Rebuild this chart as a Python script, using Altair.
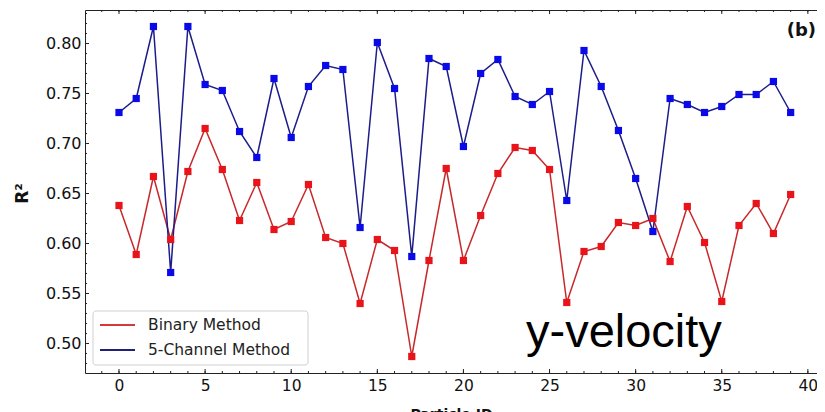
import altair as alt
import pandas as pd

# ---------------- data ----------------
particle_ids = list(range(40))
binary_r2 = [0.638, 0.589, 0.667, 0.604, 0.672, 0.715, 0.674, 0.623, 0.661, 0.614,
             0.622, 0.659, 0.606, 0.600, 0.540, 0.604, 0.593, 0.487, 0.583, 0.675,
             0.583, 0.628, 0.670, 0.696, 0.693, 0.674, 0.541, 0.592, 0.597, 0.621,
             0.618, 0.625, 0.582, 0.637, 0.601, 0.542, 0.618, 0.640, 0.610, 0.649]
five_channel_r2 = [0.731, 0.745, 0.817, 0.571, 0.817, 0.759, 0.753, 0.712, 0.686, 0.765,
                   0.706, 0.757, 0.778, 0.774, 0.616, 0.801, 0.755, 0.587, 0.785, 0.777,
                   0.697, 0.770, 0.784, 0.747, 0.739, 0.752, 0.643, 0.793, 0.757, 0.713,
                   0.665, 0.612, 0.745, 0.739, 0.731, 0.737, 0.749, 0.749, 0.762, 0.731]
series_names = ["Binary Method", "5-Channel Method"]
x_major = [0, 5, 10, 15, 20, 25, 30, 35, 40]
x_minor = list(range(-1, 41))
y_major = [0.50, 0.55, 0.60, 0.65, 0.70, 0.75, 0.80]
y_minor = [round(0.48 + 0.01 * i, 2) for i in range(36)]
x_title = "Particle ID"
y_title = "R²"
panel_label = "(b)"
component_label = "y-velocity"

line_colors = ["#c8282a", "#1c1c8a"]
legend_line_colors = ["#d43a3a", "#202078"]
marker_colors = ["#e8141a", "#0a0ae8"]

W, H = 732, 363
FONT = "DejaVu Sans"

df = pd.DataFrame({
    "pid": particle_ids * 2,
    "r2": binary_r2 + five_channel_r2,
    "series": [series_names[0]] * 40 + [series_names[1]] * 40,
})

xscale = alt.Scale(domain=[-1.974, 40.53], nice=False, zero=False)
yscale = alt.Scale(domain=[0.4705, 0.8335], nice=False, zero=False)

y_axis = alt.Axis(values=y_major, format=".2f", ticks=False, grid=False,
                  domainColor="#222", labelFont=FONT, labelFontSize=16,
                  labelColor="#111", labelPadding=4, title=y_title,
                  titleFont=FONT, titleFontSize=17, titleFontWeight="bold",
                  titleColor="#111", titleAngle=270, titleX=-63, titleY=183,
                  titleAlign="center", titleBaseline="middle")

x_bottom = alt.X("pid:Q", scale=xscale,
                 axis=alt.Axis(values=x_major, ticks=False, grid=False, domainColor="#222",
                               labelFont=FONT, labelFontSize=15.5, labelColor="#111",
                               labelPadding=5, title=x_title, titleFont=FONT,
                               titleFontSize=14, titleFontWeight="bold", titlePadding=14,
                               titleColor="#111"))


def ycol(field):
    return alt.Y(field, scale=yscale, axis=y_axis)


lines = alt.Chart(df).mark_line(strokeWidth=1.5).encode(
    x=x_bottom, y=ycol("r2:Q"),
    color=alt.Color("series:N", scale=alt.Scale(domain=series_names, range=line_colors),
                    legend=None),
    detail="series:N",
)
points = alt.Chart(df).mark_square(size=52, opacity=1).encode(
    x=alt.X("pid:Q", scale=xscale, axis=None),
    y=ycol("r2:Q"),
    fill=alt.Fill("series:N", scale=alt.Scale(domain=series_names, range=marker_colors),
                  legend=None),
)

# top spine
top_axis = alt.Chart(pd.DataFrame({"pid": [0]})).mark_point(opacity=0).encode(
    x=alt.X("pid:Q", scale=xscale,
            axis=alt.Axis(orient="top", labels=False, ticks=False, grid=False,
                          domainColor="#222", title=None)),
)

# inward ticks
xmaj = pd.DataFrame({"t": x_major})
xmin = pd.DataFrame({"t": x_minor})
ymaj = pd.DataFrame({"r2": y_major})
ymin = pd.DataFrame({"r2": y_minor})
tick_color = "#222"


def xticks(d, length):
    b = alt.Chart(d).mark_rule(color=tick_color, strokeWidth=1).encode(
        x=alt.X("t:Q", scale=xscale, axis=None), y=alt.value(H), y2=alt.value(H - length))
    t = alt.Chart(d).mark_rule(color=tick_color, strokeWidth=1).encode(
        x=alt.X("t:Q", scale=xscale, axis=None), y=alt.value(0), y2=alt.value(length))
    return [b, t]


def yticks(d, length):
    l = alt.Chart(d).mark_rule(color=tick_color, strokeWidth=1).encode(
        y=ycol("r2:Q"), x=alt.value(0), x2=alt.value(length))
    return [l]


ticks = xticks(xmaj, 4) + xticks(xmin, 2) + yticks(ymaj, 4) + yticks(ymin, 2)

# legend (drawn by hand, matplotlib style)
one = pd.DataFrame({"k": [0]})
legend_frame = alt.Chart(one).mark_rect(fill="white", stroke="#cccccc", strokeWidth=1,
                                        cornerRadius=3, opacity=0.9).encode(
    x=alt.value(8), x2=alt.value(223), y=alt.value(301), y2=alt.value(355))
legend_layers = [legend_frame]
for i, name in enumerate(series_names):
    yy = 315 + 25 * i
    legend_layers.append(alt.Chart(one).mark_rule(color=legend_line_colors[i], strokeWidth=2).encode(
        x=alt.value(15), x2=alt.value(50), y=alt.value(yy)))
    legend_layers.append(alt.Chart(pd.DataFrame({"lab": [name]})).mark_text(
        font=FONT, fontSize=15.5, color="#222", align="left", baseline="middle").encode(
        x=alt.value(63), y=alt.value(yy), text="lab:N"))

panel = alt.Chart(pd.DataFrame({"lab": [panel_label]})).mark_text(
    font=FONT, fontSize=18, fontWeight="bold", color="#111", align="right",
    baseline="alphabetic").encode(x=alt.value(731), y=alt.value(26), text="lab:N")
comp = alt.Chart(pd.DataFrame({"lab": [component_label]})).mark_text(
    font="Liberation Sans", fontSize=47, color="#000", align="left",
    baseline="alphabetic").encode(x=alt.value(441), y=alt.value(337), text="lab:N")

chart = alt.layer(
    lines, points, top_axis, *ticks, *legend_layers, panel, comp
).resolve_scale(
    color="independent", fill="independent"
).resolve_axis(
    x="independent"
).properties(
    width=W, height=H,
    autosize=alt.AutoSizeParams(type="none"),
    padding={"left": 77, "top": 2, "right": 0, "bottom": 39},
).configure_view(stroke=None)

chart.save("out.html", embed_options={"renderer": "svg", "actions": False})
